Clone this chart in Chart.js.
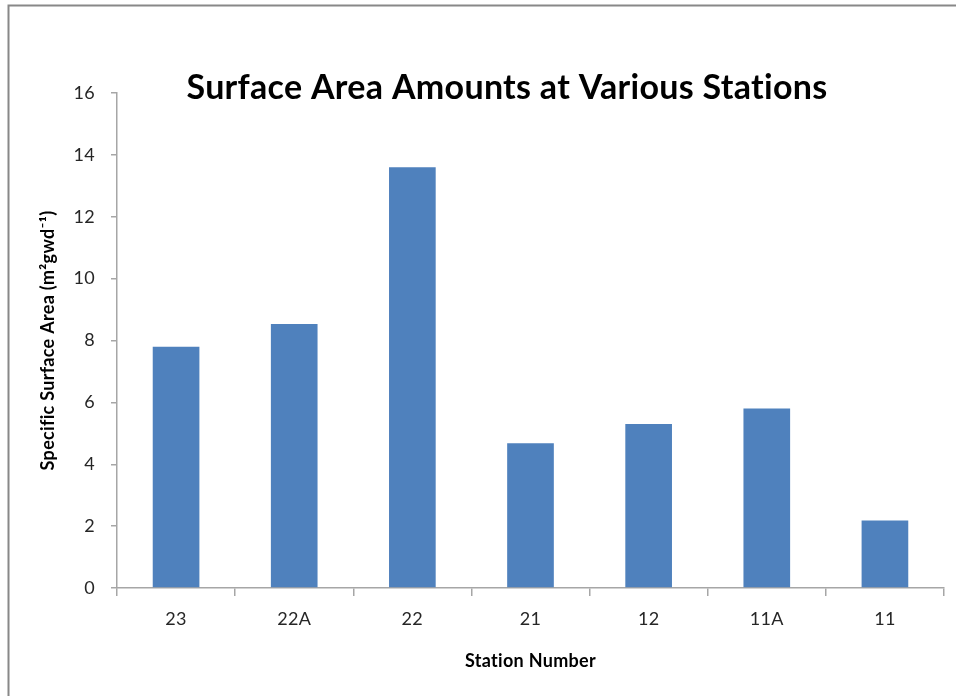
<!DOCTYPE html>
<html>
<head>
<meta charset="utf-8">
<script src="https://cdn.jsdelivr.net/npm/chart.js@4/dist/chart.umd.min.js"></script>
<style>
  html, body { margin: 0; padding: 0; background: #fff; }
  #wrap { width: 956px; height: 696px; position: relative; }
</style>
</head>
<body>
<div id="wrap"><canvas id="c" width="956" height="696"></canvas></div>
<script>
// Station identifiers along the horizontal axis
const stations = ['23', '22A', '22', '21', '12', '11A', '11'];
// Specific surface area per station
const surfaceArea = [7.8, 8.53, 13.6, 4.68, 5.3, 5.8, 2.18];
// Vertical axis tick values
const yTicks = [0, 2, 4, 6, 8, 10, 12, 14, 16];

const chartTitle = 'Surface Area Amounts at Various Stations';
const xTitle = 'Station Number';
const yTitle = 'Specific Surface Area (m²gwd⁻¹)';

const FONT = 'Lato, "Open Sans", sans-serif';
const AXIS_GRAY = '#a6a6a6';

// Outer frame (top and left edges) plus the centred heading
const framePlugin = {
  id: 'frame',
  beforeDraw(chart) {
    const ctx = chart.ctx;
    // a touch of tracking keeps "ti"/"fi" as separate letters
    ctx.letterSpacing = '0.3px';
    ctx.save();
    ctx.fillStyle = '#ffffff';
    ctx.fillRect(0, 0, chart.width, chart.height);
    ctx.strokeStyle = '#888888';
    ctx.lineWidth = 2;
    ctx.beginPath();
    ctx.moveTo(8.5, chart.height);
    ctx.lineTo(8.5, 5.5);
    ctx.lineTo(chart.width, 5.5);
    ctx.stroke();
    ctx.restore();
  },
  afterDraw(chart) {
    const ctx = chart.ctx;
    ctx.save();
    ctx.fillStyle = '#000000';
    ctx.font = 'bold 34px ' + FONT;
    ctx.textAlign = 'center';
    ctx.textBaseline = 'middle';
    ctx.fillText(chartTitle, 507, 88);
    ctx.restore();
  }
};

new Chart(document.getElementById('c'), {
  type: 'bar',
  data: {
    labels: stations,
    datasets: [{
      data: surfaceArea,
      backgroundColor: '#4F81BD',
      borderColor: '#4F81BD',
      borderWidth: 0,
      barPercentage: 0.395,
      categoryPercentage: 1.0
    }]
  },
  options: {
    responsive: false,
    animation: false,
    devicePixelRatio: 1,
    layout: { padding: { left: 0, top: 93, right: 12, bottom: 0 } },
    plugins: {
      legend: { display: false },
      title: { display: false },
      tooltip: { enabled: false }
    },
    scales: {
      x: {
        offset: true,
        afterFit(scale) { scale.height = 108; },
        grid: {
          display: true,
          offset: true,
          drawOnChartArea: false,
          drawTicks: true,
          tickLength: 8,
          color: AXIS_GRAY,
          lineWidth: 1.5
        },
        border: { display: true, color: AXIS_GRAY, width: 1.5 },
        ticks: {
          padding: 12,
          color: '#262626',
          font: { family: FONT, size: 18 }
        },
        title: {
          display: true,
          text: xTitle,
          color: '#000000',
          font: { family: FONT, size: 18, weight: 'bold' },
          padding: { top: 0, bottom: 24 }
        }
      },
      y: {
        min: yTicks[0],
        max: yTicks[yTicks.length - 1],
        afterFit(scale) { scale.width = 117; },
        afterBuildTicks(scale) { scale.ticks = yTicks.map(v => ({ value: v })); },
        grid: {
          display: true,
          drawOnChartArea: false,
          drawTicks: true,
          tickLength: 6,
          color: AXIS_GRAY,
          lineWidth: 1.5
        },
        border: { display: true, color: AXIS_GRAY, width: 1.5 },
        ticks: {
          padding: 16,
          color: '#262626',
          font: { family: FONT, size: 18 }
        },
        title: {
          display: true,
          text: yTitle,
          color: '#000000',
          font: { family: FONT, size: 18, weight: 'bold' },
          padding: { top: 37, bottom: 0 }
        }
      }
    }
  },
  plugins: [framePlugin]
});
</script>
</body>
</html>
